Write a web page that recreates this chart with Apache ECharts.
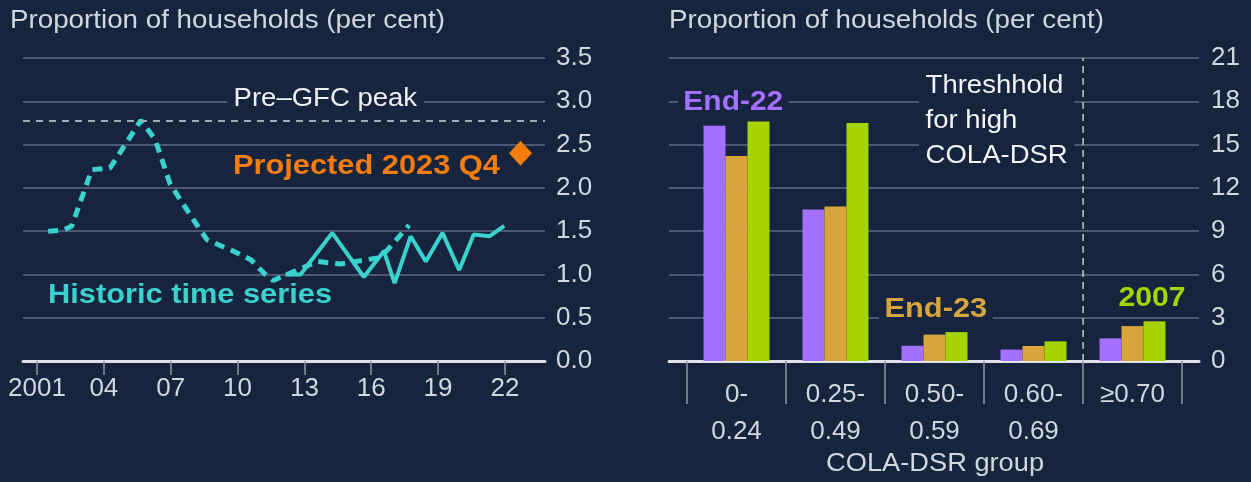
<!DOCTYPE html>
<html>
<head>
<meta charset="utf-8">
<script src="https://cdn.jsdelivr.net/npm/echarts@6/dist/echarts.min.js"></script>
<style>
html,body{margin:0;padding:0;background:#16243e;}
#c{width:1251px;height:482px;}
</style>
</head>
<body>
<div id="c"></div>
<script>
// ---- Left panel data ----
const histDashYears = [2001.5, 2002.18, 2002.56, 2003.46, 2004.28, 2005.66, 2006.3, 2006.98, 2008.18, 2008.63, 2009.8, 2010.6, 2011.2, 2011.6, 2012.5, 2013.58, 2014.62, 2016.27, 2016.72, 2017.7];
const histDashValues = [1.50, 1.51, 1.56, 2.21, 2.23, 2.78, 2.56, 2.04, 1.57, 1.40, 1.27, 1.17, 1.01, 0.93, 1.03, 1.15, 1.12, 1.19, 1.28, 1.57];
const histSolidYears = [2012.15, 2012.83, 2014.25, 2015.67, 2016.57, 2017.05, 2017.77, 2018.45, 2019.2, 2019.95, 2020.6, 2021.3, 2021.97];
const histSolidValues = [1.00, 1.00, 1.48, 0.97, 1.27, 0.90, 1.44, 1.15, 1.48, 1.05, 1.46, 1.44, 1.56];
const projectedYear = [2022.7];
const projectedValue = [2.40];
const preGfcPeak = 2.78;
const leftYearTicks = [2001, 2004, 2007, 2010, 2013, 2016, 2019, 2022];
const leftYTicks = [0, 0.5, 1.0, 1.5, 2.0, 2.5, 3.0, 3.5];

// ---- Right panel data ----
const groups = ['0-\n0.24', '0.25-\n0.49', '0.50-\n0.59', '0.60-\n0.69', '≥0.70'];
const end22 = [16.3, 10.5, 1.06, 0.79, 1.57];
const end23 = [14.2, 10.7, 1.83, 1.04, 2.42];
const y2007 = [16.6, 16.5, 2.0, 1.36, 2.75];
const thresholdPosition = 4; // boundary between 0.60-0.69 and ≥0.70
const rightYTicks = [0, 3, 6, 9, 12, 15, 18, 21];

const BG = '#16243e';
const TXT = '#d2d6de';
const GRID = '#4a5870';
const TEAL = '#3ad2cf';
const ORANGE = '#f57c0e';
const PURPLE = '#a470ff';
const GOLD = '#d7a53c';
const GREEN = '#a6d400';
const FONT = '"Liberation Sans", Arial, sans-serif';

const chart = echarts.init(document.getElementById('c'), null, {renderer: 'canvas'});

const pairs = (xs, ys) => xs.map((x, i) => [x, ys[i]]);

function label(text, left, top, font, fill, sx, extra) {
  return Object.assign({
    type: 'text', left: left, top: top, z: 10, scaleX: sx, originX: 0,
    style: Object.assign({text: text, fill: fill, font: font + ' ' + FONT}, extra || {})
  });
}

const option = {
  backgroundColor: BG,
  animation: false,
  textStyle: {fontFamily: FONT},
  grid: [
    {left: 23, width: 522, top: 58, bottom: 121},
    {left: 669, width: 530, top: 58, bottom: 121},
    {left: 687, width: 495, top: 58, bottom: 121}
  ],
  xAxis: [
    {
      type: 'value', gridIndex: 0, min: 2000.37, max: 2023.8,
      axisLine: {show: true, lineStyle: {color: '#dfe2e8', width: 3}},
      axisTick: {show: true, customValues: leftYearTicks, length: 14, lineStyle: {color: '#8c96a6', width: 1.5}},
      axisLabel: {show: true, customValues: leftYearTicks, color: TXT, fontSize: 26, fontFamily: FONT, margin: 15,
        formatter: v => (v === 2001 ? '2001' : String(v).slice(2))},
      splitLine: {show: false}
    },
    {
      type: 'value', gridIndex: 1, min: -0.18, max: 5.17,
      axisLine: {show: true, lineStyle: {color: '#dfe2e8', width: 3}},
      axisTick: {show: false}, axisLabel: {show: false}, splitLine: {show: false}
    },
    {
      type: 'category', gridIndex: 2, data: groups,
      axisLine: {show: false},
      axisTick: {show: true, length: 43, lineStyle: {color: '#8c96a6', width: 1.5}},
      axisLabel: {color: TXT, fontSize: 26, fontFamily: FONT, lineHeight: 37, margin: 15},
      splitLine: {show: false}
    }
  ],
  yAxis: [
    {
      type: 'value', gridIndex: 0, position: 'right', min: 0, max: 3.5, interval: 0.5,
      axisLine: {show: false}, axisTick: {show: false},
      axisLabel: {color: TXT, fontSize: 26, fontFamily: FONT, margin: 11, formatter: v => v.toFixed(1)},
      splitLine: {show: true, lineStyle: {color: GRID, width: 2}}
    },
    {
      type: 'value', gridIndex: 1, position: 'right', min: 0, max: 21, interval: 3,
      axisLine: {show: false}, axisTick: {show: false},
      axisLabel: {color: TXT, fontSize: 26, fontFamily: FONT, margin: 12},
      splitLine: {show: true, lineStyle: {color: GRID, width: 2}}
    },
    {
      type: 'value', gridIndex: 2, min: 0, max: 21, show: false
    }
  ],
  series: [
    {
      type: 'line', xAxisIndex: 0, yAxisIndex: 0, data: [], silent: true,
      markLine: {symbol: 'none', silent: true, label: {show: false},
        lineStyle: {color: '#a3abb9', type: [7, 6], width: 2}, data: [{yAxis: preGfcPeak}]}
    },
    {
      type: 'line', xAxisIndex: 0, yAxisIndex: 0, data: pairs(histDashYears, histDashValues),
      showSymbol: false, z: 3,
      lineStyle: {color: TEAL, width: 5, type: [10, 7]}
    },
    {
      type: 'line', xAxisIndex: 0, yAxisIndex: 0, data: pairs(histSolidYears, histSolidValues),
      showSymbol: false, z: 4,
      lineStyle: {color: TEAL, width: 4}
    },
    {
      type: 'scatter', xAxisIndex: 0, yAxisIndex: 0, data: pairs(projectedYear, projectedValue),
      symbol: 'diamond', symbolSize: [23, 25], itemStyle: {color: ORANGE, opacity: 1}
    },
    {
      type: 'line', xAxisIndex: 1, yAxisIndex: 1,
      data: [[thresholdPosition, 0], [thresholdPosition, 21]],
      showSymbol: false, lineStyle: {color: '#c3c8d2', width: 1.5, type: [7, 5]}
    },
    {type: 'bar', name: 'End-22', xAxisIndex: 2, yAxisIndex: 2, data: end22, barWidth: 22, barGap: '0%', itemStyle: {color: PURPLE}},
    {type: 'bar', name: 'End-23', xAxisIndex: 2, yAxisIndex: 2, data: end23, barWidth: 22, barGap: '0%', itemStyle: {color: GOLD}},
    {type: 'bar', name: '2007', xAxisIndex: 2, yAxisIndex: 2, data: y2007, barWidth: 22, barGap: '0%', itemStyle: {color: GREEN}}
  ],
  graphic: [
    label('Proportion of households (per cent)', 10, 9, '25px', TXT, 1.11),
    label('Proportion of households (per cent)', 669, 9, '25px', TXT, 1.11),
    label('Pre\u2013GFC peak', 227, 87, '25px', '#eef0f3', 1.10, {backgroundColor: BG, padding: [0, 6]}),
    label('Projected 2023 Q4', 233, 153, 'bold 27px', ORANGE, 1.14),
    label('Historic time series', 48, 282, 'bold 27px', TEAL, 1.14),
    label('Threshhold\nfor high\nCOLA-DSR', 919, 69, '25px', '#f2f4f7', 1.10, {lineHeight: 35, backgroundColor: BG, padding: [0, 6]}),
    label('End-22', 678, 88, 'bold 28px', PURPLE, 1.07, {backgroundColor: BG, padding: [0, 5]}),
    label('End-23', 879, 295, 'bold 28px', GOLD, 1.10, {backgroundColor: BG, padding: [0, 5]}),
    label('2007', 1113, 284, 'bold 28px', GREEN, 1.08, {backgroundColor: BG, padding: [0, 5, 4, 5]}),
    label('COLA-DSR group', 826, 452, '25px', TXT, 1.09)
  ]
};
chart.setOption(option);
</script>
</body>
</html>
